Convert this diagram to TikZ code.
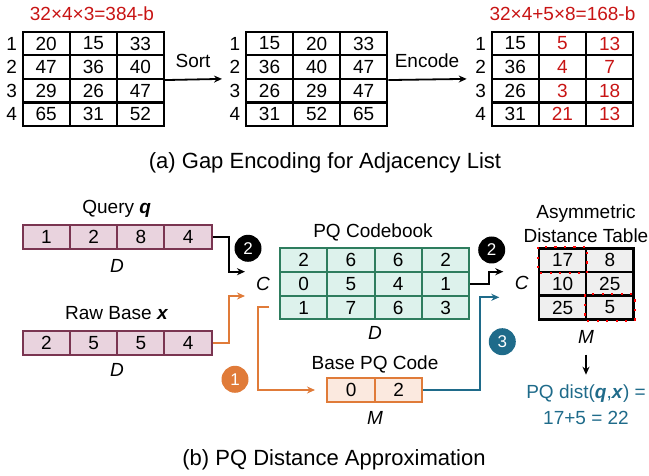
\documentclass[tikz,border=0pt]{standalone}
\usepackage{fontspec}
\setmainfont{Liberation Sans}
\usetikzlibrary{arrows.meta,calc}

\definecolor{numred}{RGB}{200,20,20}
\definecolor{qfill}{RGB}{233,211,222}
\definecolor{qline}{RGB}{122,53,81}
\definecolor{cbfill}{RGB}{221,242,236}
\definecolor{cbline}{RGB}{46,125,94}
\definecolor{pqfill}{RGB}{251,233,223}
\definecolor{pqline}{RGB}{224,123,57}
\definecolor{blueink}{RGB}{31,107,138}
\definecolor{adtfill}{RGB}{239,239,239}

\tikzset{
  txt/.style={font=\fontsize{19}{22}\selectfont, inner sep=0pt},
  captxt/.style={font=\fontsize{22}{26}\selectfont, inner sep=0pt},
  gcell/.style={txt, draw=black, line width=2.3pt, minimum width=47.1pt, minimum height=23.6pt},
  qcell/.style={txt, draw=qline, fill=qfill, line width=2pt, minimum width=47.25pt, minimum height=24.3pt},
  cbcell/.style={txt, draw=cbline, fill=cbfill, line width=2pt, minimum width=47.3pt, minimum height=23.7pt},
  pqcell/.style={txt, draw=pqline, fill=pqfill, line width=2pt, minimum width=47.5pt, minimum height=23.4pt},
  adtcell/.style={txt, draw=black, fill=adtfill, line width=2.5pt, minimum width=47.2pt, minimum height=23.7pt},
  arr/.style={-{Stealth[length=8pt,width=7pt]}},
  conn/.style={line width=1.8pt, arr},
  badge/.style={circle, minimum size=27pt, inner sep=0pt, text=white, font=\fontsize{17}{20}\selectfont},
  reddot/.style={draw=red, line width=2pt, dash pattern=on 2.2pt off 7.3pt},
}

\begin{document}
\begin{tikzpicture}[x=1pt,y=-1pt]
\useasboundingbox (0,0) rectangle (649,476);

% ---------- (a) gap encoding ----------
\node[txt, text=numred] (titleA) at (92,14) {32×4×3=384-b};
\node[txt, text=numred] (titleC) at (562.5,14) {32×4+5×8=168-b};

% original adjacency lists
\foreach \row [count=\r] in {{20,15,33},{47,36,40},{29,26,47},{65,31,52}} {
  \node[txt] (ta-l\r) at (11.7,{31.7+(\r-0.5)*23.6}) {\r};
  \foreach \v [count=\c] in \row
    \node[gcell] (ta-\r-\c) at ({22.7+(\c-0.5)*47.1},{31.7+(\r-0.5)*23.6}) {\v};
}
% sorted lists
\foreach \row [count=\r] in {{15,20,33},{36,40,47},{26,29,47},{31,52,65}} {
  \node[txt] (tb-l\r) at (235,{31.7+(\r-0.5)*23.6}) {\r};
  \foreach \v [count=\c] in \row
    \node[gcell] (tb-\r-\c) at ({246+(\c-0.5)*47.1},{31.7+(\r-0.5)*23.6}) {\v};
}
% gap-encoded lists
\foreach \row [count=\r] in {{15,5,13},{36,4,7},{26,3,18},{31,21,13}} {
  \node[txt] (tc-l\r) at (480.7,{31.7+(\r-0.5)*23.6}) {\r};
  \foreach \v [count=\c] in \row
    \node[gcell, minimum width=47.2pt] (tc-\r-\c) at ({491.7+(\c-0.5)*47.2},{31.7+(\r-0.5)*23.6}) {\ifnum\c>1\color{numred}\fi\v};
}

\coordinate (sortend) at (222,78.9);
\coordinate (encend) at (466.7,78.9);
\node[txt] (sortlbl) at (193,61) {Sort};
\node[txt] (enclbl) at (427,61) {Encode};
\draw[conn] (ta-2-3.south east) -- (sortend);
\draw[conn] (tb-2-3.south east) -- (encend);

\node[captxt] (capA) at (325,163) {(a) Gap Encoding for Adjacency List};

% ---------- (b) PQ distance ----------
\node[txt] (qlbl) at (116.7,209) {Query \textbf{\textit{q}}};
\foreach \v [count=\c] in {1,2,8,4}
  \node[qcell] (q-\c) at ({22.7+(\c-0.5)*47.25},237.15) {\v};
\node[txt] (qD) at (117,266) {\textit{D}};

\node[txt] (rlbl) at (116.7,313) {Raw Base \textbf{\textit{x}}};
\foreach \v [count=\c] in {2,5,5,4}
  \node[qcell] (r-\c) at ({22.7+(\c-0.5)*47.25},342.85) {\v};
\node[txt] (rD) at (117,370) {\textit{D}};

% codebook
\node[txt] (cblbl) at (373,232) {PQ Codebook};
\foreach \row [count=\r] in {{2,6,6,2},{0,5,4,1},{1,7,6,3}} {
  \foreach \v [count=\c] in \row
    \node[cbcell] (cb-\r-\c) at ({280+(\c-0.5)*47.3},{248.3+(\r-0.5)*23.7}) {\v};
}
\node[txt] (cbC) at (263,283.5) {\textit{C}};
\node[txt] (cbD) at (375,333.3) {\textit{D}};

% base PQ code
\node[txt] (pqlbl) at (375,364) {Base PQ Code};
\foreach \v [count=\c] in {0,2}
  \node[pqcell] (bp-\c) at ({327.3+(\c-0.5)*47.5},390) {\v};
\node[txt] (bpM) at (375,418) {\textit{M}};

% asymmetric distance table
\node[txt] (adtl1) at (586,213.3) {Asymmetric};
\node[txt] (adtl2) at (586,236) {Distance Table};
\foreach \row [count=\r] in {{17,8},{10,25},{25,5}} {
  \foreach \v [count=\c] in \row
    \node[adtcell] (adt-\r-\c) at ({539+(\c-0.5)*47.2},{248.3+(\r-0.5)*23.7}) {\v};
}
\draw[reddot] (adt-1-1.north west) rectangle (adt-1-1.south east);
\draw[reddot] (adt-3-2.north west) rectangle (adt-3-2.south east);
\node[txt] (adtC) at (521.7,283.3) {\textit{C}};
\node[txt] (adtM) at (586,336.7) {\textit{M}};

\node[txt, text=blueink] (dist1) at (586,394) {PQ dist(\textbf{\textit{q}},\textbf{\textit{x}}) =};
\node[txt, text=blueink] (dist2) at (586,418) {17+5 = 22};
\draw[line width=1.8pt, arr] ([yshift=-18pt]adtM.center) -- ([yshift=-38pt]adtM.center);

% connectors
\coordinate (cq) at (245,271.7);
\coordinate (cr) at (245,296);
\coordinate (cbout) at (269.3,307.3);
\coordinate (bpin) at (315,390);
\coordinate (adtin2) at (503.3,271.7);
\coordinate (adtin3) at (499.3,297.3);

\draw[conn, black] (q-4.east) -- ++(16,0) |- (cq);
\draw[conn, pqline] (r-4.east) -- ++(16,0) |- (cr);
\draw[conn, pqline] (cbout) -- ++(-11.6,0) |- (bpin);
\draw[conn, black] (cb-2-4.east) -- ++(19,0) |- (adtin2);
\draw[conn, blueink] (bp-2.east) -- ++(57,0) |- (adtin3);

% step badges
\node[badge, fill=black] (b2a) at (248,248.3) {2};
\node[badge, fill=black] (b2b) at (491.7,250) {2};
\node[badge, fill=pqline] (b1) at (235,379.3) {1};
\node[badge, fill=blueink] (b3) at (502.3,341.7) {3};

\node[captxt] (capB) at (334,460) {(b) PQ Distance Approximation};
\end{tikzpicture}
\end{document}
